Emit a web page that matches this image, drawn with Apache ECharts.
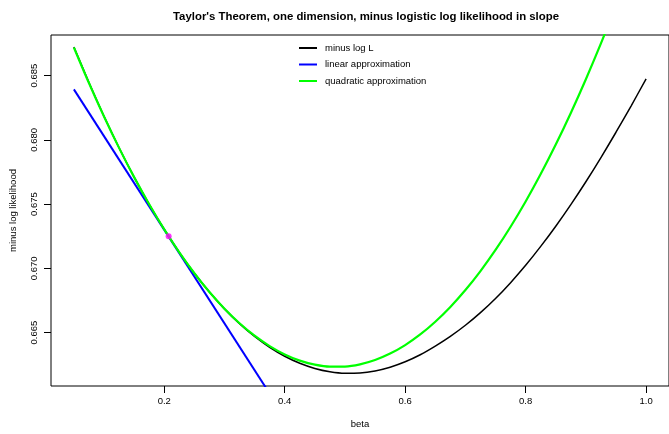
<!DOCTYPE html>
<html>
<head>
<meta charset="utf-8">
<script src="https://cdn.jsdelivr.net/npm/echarts@6/dist/echarts.min.js"></script>
<style>
html,body{margin:0;padding:0;background:#fff;}
#chart{width:669px;height:434px;}
</style>
</head>
<body>
<div id="chart"></div>
<script>
// ---- data ----
const beta = [0.050,0.075,0.100,0.125,0.150,0.175,0.200,0.225,0.250,0.275,0.300,0.325,0.350,0.375,0.400,0.425,0.450,0.475,0.500,0.525,0.550,0.575,0.600,0.625,0.650,0.675,0.700,0.725,0.750,0.775,0.800,0.825,0.850,0.875,0.900,0.925,0.950,0.975,1.000];
const minusLogL = [0.68722,0.684459,0.681836,0.679383,0.677100,0.674983,0.673031,0.671244,0.669619,0.668153,0.666846,0.665695,0.664699,0.663855,0.663160,0.662614,0.662214,0.661956,0.661839,0.661861,0.662018,0.662309,0.662730,0.663277,0.663951,0.664706,0.665570,0.666550,0.667652,0.668885,0.670234,0.671707,0.673279,0.674958,0.676739,0.678621,0.680588,0.682628,0.684746];
const quadApprox = [0.687185,0.684418,0.681814,0.679373,0.677096,0.674982,0.673031,0.671244,0.669620,0.668159,0.666861,0.665727,0.664756,0.663949,0.663304,0.662823,0.662506,0.662351,0.662360,0.662532,0.662868,0.663367,0.664029,0.664854,0.665843,0.666995,0.668310,0.669789,0.671430,0.673236,0.675204,0.677336,0.679631,0.682089,0.684711,0.687496,0.690444,0.693555,0.696831];
const linBeta = [0.05, 1.00];
const linApprox = [0.683923, 0.614744];
const expansionBeta = 0.2073;
const expansionValue = 0.672492;
const xTicks = [0.2, 0.4, 0.6, 0.8, 1.0];
const yTicks = [0.665, 0.670, 0.675, 0.680, 0.685];
const seriesNames = ['minus log L', 'linear approximation', 'quadratic approximation'];

const zip = (xs, ys) => xs.map((x, i) => [x, ys[i]]);
const FONT = '"Liberation Sans", Arial, Helvetica, sans-serif';

const chart = echarts.init(document.getElementById('chart'), null, {renderer: 'canvas'});
chart.setOption({
  animation: false,
  backgroundColor: '#fff',
  textStyle: {fontFamily: FONT},
  title: {
    text: "Taylor's Theorem, one dimension, minus logistic log likelihood in slope",
    left: 361, top: 6, textAlign: 'center',
    textStyle: {fontSize: 11.4, fontWeight: 'bold', color: '#000', fontFamily: FONT}
  },
  legend: {
    orient: 'vertical', left: 299, top: 43, itemGap: 6.5, padding: 0,
    itemWidth: 18, itemHeight: 2, icon: 'rect',
    textStyle: {fontSize: 9.5, color: '#000', fontFamily: FONT, padding: [0,0,0,3]},
    data: seriesNames
  },
  grid: {left: 51, right: -2, top: 35, bottom: 43, show: true, borderColor: '#000', borderWidth: 1, containLabel: false},
  xAxis: {
    type: 'value', min: 0.012, max: 1.038,
    axisLine: {show: false},
    splitLine: {show: false},
    axisTick: {show: true, customValues: xTicks, length: 7, lineStyle: {color: '#000'}},
    axisLabel: {customValues: xTicks, fontSize: 9.5, color: '#000', margin: 10, formatter: v => v.toFixed(1)},
    name: 'beta', nameLocation: 'middle', nameGap: 33,
    nameTextStyle: {fontSize: 9.5, color: '#000'}
  },
  yAxis: {
    type: 'value', min: 0.660846, max: 0.688154,
    axisLine: {show: false},
    splitLine: {show: false},
    axisTick: {show: true, customValues: yTicks, length: 7, lineStyle: {color: '#000'}},
    axisLabel: {customValues: yTicks, fontSize: 9.5, color: '#000', margin: 12, rotate: 90, formatter: v => v.toFixed(3)},
    name: 'minus log likelihood', nameLocation: 'middle', nameGap: 33,
    nameTextStyle: {fontSize: 9.5, color: '#000'}
  },
  series: [
    {name: seriesNames[0], type: 'line', data: zip(beta, minusLogL), smooth: 0.3, showSymbol: false, clip: true,
     lineStyle: {color: '#000', width: 1.5}, itemStyle: {color: '#000'}},
    {name: seriesNames[1], type: 'line', data: zip(linBeta, linApprox), showSymbol: false, clip: true,
     lineStyle: {color: '#0000FF', width: 2}, itemStyle: {color: '#0000FF'}},
    {name: seriesNames[2], type: 'line', data: zip(beta, quadApprox), smooth: 0.3, showSymbol: false, clip: true,
     lineStyle: {color: '#00FF00', width: 2.2}, itemStyle: {color: '#00FF00'}},
    {name: 'expansion point', type: 'scatter', data: [[expansionBeta, expansionValue]], symbolSize: 6,
     itemStyle: {color: '#FF00FF'}, z: 5}
  ]
});
</script>
</body>
</html>
